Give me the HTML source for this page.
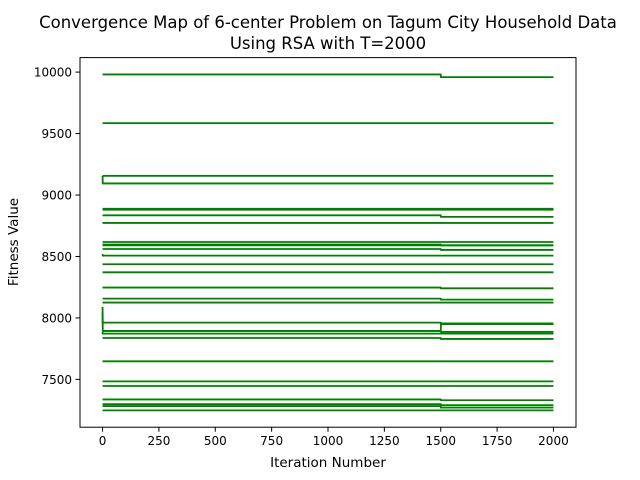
<!DOCTYPE html>
<html><head><meta charset="utf-8"><style>
body{margin:0;background:#fff;}
svg{display:block;font-family:"DejaVu Sans","Liberation Sans",sans-serif;}
</style></head><body>
<svg id="chart" width="640" height="480">
<rect width="640" height="480" fill="#fff"/>
<text x="328" y="28" font-size="16.5" text-anchor="middle">Convergence Map of 6-center Problem on Tagum City Household Data</text>
<text x="328" y="49" font-size="16.5" text-anchor="middle">Using RSA with T=2000</text>
<g id="plot"></g>
<g id="axes"></g>
<text x="328" y="467" font-size="13.5" text-anchor="middle">Iteration Number</text>
<text transform="translate(18,242) rotate(-90)" font-size="13.5" text-anchor="middle">Fitness Value</text>
</svg>
<script>
// each run: value at iteration 0, value over 1..1500, value over 1500..2000
const startValues = [9981,9585,9156,9156,8888,8880,8835,8773,8618,8597,8591,8561,8520,8437,8371,8247,8157,8125,8089,8040,7894,7886,7837,7647,7484,7446,7337,7299,7283,7248];
const midValues   = [9981,9585,9156,9094,8888,8880,8835,8773,8618,8597,8591,8561,8507,8437,8371,8247,8157,8125,7962,7894,7894,7872,7837,7647,7484,7446,7337,7299,7283,7248];
const endValues   = [9959,9585,9156,9094,8888,8880,8822,8773,8618,8591,8591,8553,8507,8437,8371,8241,8149,8125,7956,7950,7886,7872,7829,7647,7484,7446,7330,7290,7270,7248];
const xTicks = [0,250,500,750,1000,1250,1500,1750,2000];
const yTicks = [7500,8000,8500,9000,9500,10000];
const breakIter = 1500, lastIter = 2000;

const L=80,R=576,T=57.6,B=427.2;
const xmin=-100,xmax=2100,ymin=7111,ymax=10118;
const xs=v=>L+(v-xmin)/(xmax-xmin)*(R-L);
const ys=v=>B-(v-ymin)/(ymax-ymin)*(B-T);
const NS='http://www.w3.org/2000/svg';
const plot=document.getElementById('plot'), axes=document.getElementById('axes');
function mk(t,a,p){const e=document.createElementNS(NS,t);for(const k in a)e.setAttribute(k,a[k]);p.appendChild(e);return e;}

for(let i=0;i<startValues.length;i++){
  const pts=[[0,startValues[i]],[1,midValues[i]],[breakIter,midValues[i]],[breakIter+1,endValues[i]],[lastIter,endValues[i]]];
  const d=pts.map((p,j)=>(j?'L':'M')+xs(p[0]).toFixed(2)+','+ys(p[1]).toFixed(2)).join('');
  const el=mk('path',{d:d,fill:'none',stroke:'green','stroke-width':1.8},plot);
  
  
}
const frame=mk('rect',{x:L,y:T,width:R-L,height:B-T,fill:'none',stroke:'#000','stroke-width':1},axes);


xTicks.forEach(v=>{
  const x=xs(v);
  const t=mk('line',{x1:x,x2:x,y1:B,y2:B+4.5,stroke:'#000','stroke-width':1},axes);
  
  
  const l=mk('text',{x:x,y:B+18,'font-size':12,'text-anchor':'middle'},axes);
  l.textContent=v;
  
  
});
yTicks.forEach(v=>{
  const y=ys(v);
  const t=mk('line',{x1:L-4.5,x2:L,y1:y,y2:y,stroke:'#000','stroke-width':1},axes);
  
  
  const l=mk('text',{x:L-8,y:y+4.5,'font-size':12,'text-anchor':'end'},axes);
  l.textContent=v;
  
  
});
</script>
</body></html>
